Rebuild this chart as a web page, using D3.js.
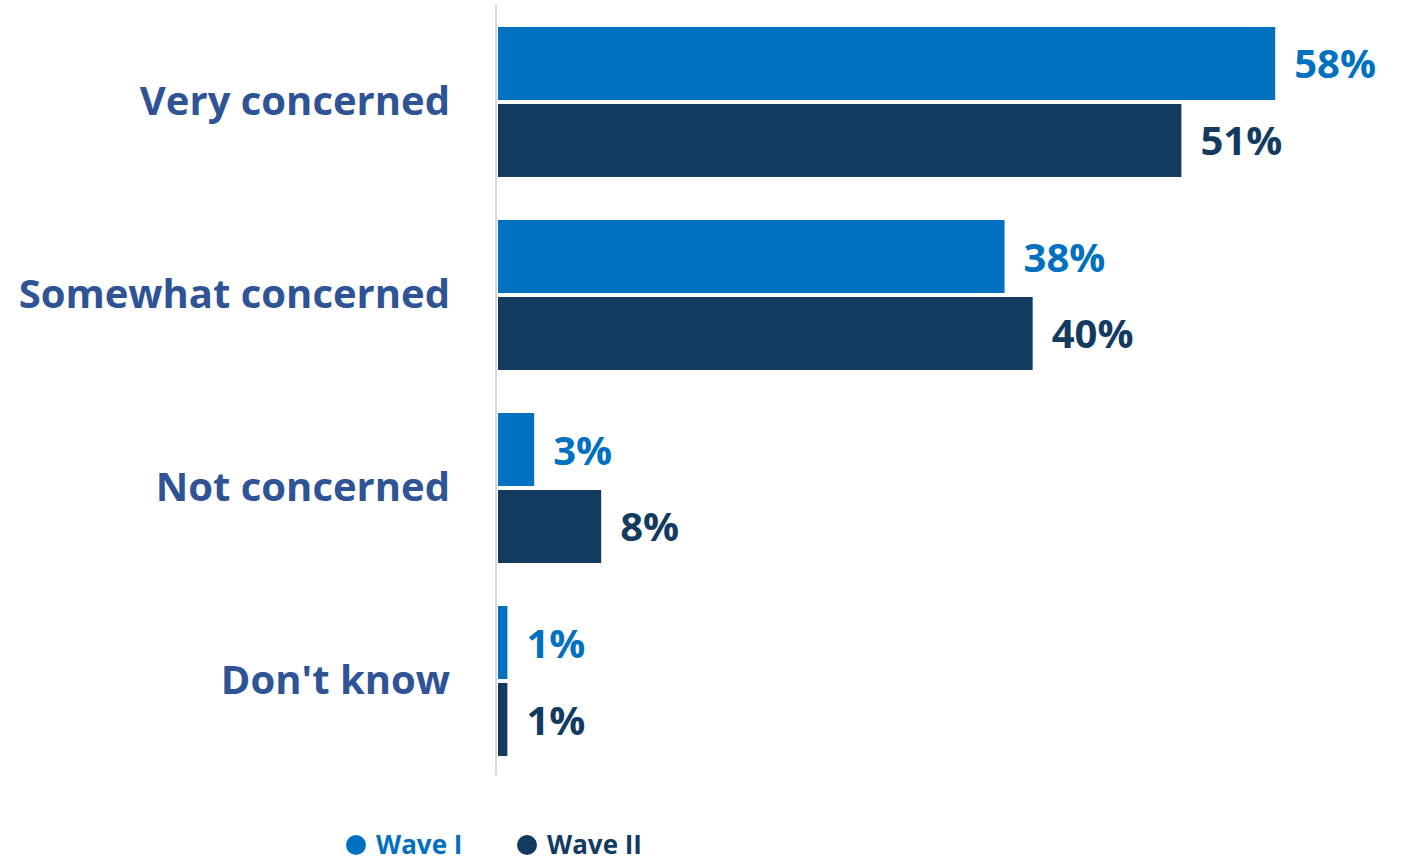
<!DOCTYPE html>
<html>
<head>
<meta charset="utf-8">
<script src="https://cdn.jsdelivr.net/npm/d3@7"></script>
<style>
  body { margin: 0; background: #fff; }
  text { font-family: "Open Sans", Lato, sans-serif; font-weight: bold; }
</style>
</head>
<body>
<div id="chart"></div>
<script>
var width = 1404,
    height = 862;

// data
var categories = ["Very concerned", "Somewhat concerned", "Not concerned", "Don't know"];
var series = ["Wave I", "Wave II"];
var waveOne = [58, 37.8, 2.7, 0.7];
var waveTwo = [51, 39.9, 7.7, 0.7];
var labelsOne = ["58%", "38%", "3%", "1%"];
var labelsTwo = ["51%", "40%", "8%", "1%"];

var colors = ["#0070c0", "#133b5f"];

var svg = d3.select("#chart")
    .append("svg")
    .attr("width", width)
    .attr("height", height);

// scales
var y = d3.scaleBand()
    .domain(categories)
    .range([27, 756])
    .paddingInner(0.223)
    .paddingOuter(0);

var ySub = d3.scaleBand()
    .domain(series)
    .range([0, y.bandwidth()])
    .paddingInner(0.052);

var x = d3.scaleLinear()
    .domain([0, 60])
    .range([498, 1302]);

var rows = [];
categories.forEach(function (c, i) {
    rows.push({ cat: c, s: "Wave I", v: waveOne[i], label: labelsOne[i], color: colors[0] });
    rows.push({ cat: c, s: "Wave II", v: waveTwo[i], label: labelsTwo[i], color: colors[1] });
});

// bars
svg.append("g")
    .selectAll("rect")
    .data(rows)
    .enter()
    .append("rect")
    .attr("x", x(0))
    .attr("y", function (d) { return y(d.cat) + ySub(d.s); })
    .attr("width", function (d) { return x(d.v) - x(0); })
    .attr("height", ySub.bandwidth())
    .style("fill", function (d) { return d.color; });

// value labels
svg.append("g")
    .selectAll("text")
    .data(rows)
    .enter()
    .append("text")
    .attr("x", function (d) { return x(d.v) + 19; })
    .attr("y", function (d) { return y(d.cat) + ySub(d.s) + ySub.bandwidth() / 2 + 15; })
    .style("font-size", "40px")
    .style("fill", function (d) { return d.color; })
    .text(function (d) { return d.label; });

// axis line
svg.append("line")
    .attr("x1", 496).attr("x2", 496)
    .attr("y1", 5).attr("y2", 775)
    .style("stroke", "#d9d9d9")
    .style("stroke-width", 2);

// category labels
svg.append("g")
    .selectAll("text")
    .data(categories)
    .enter()
    .append("text")
    .attr("x", 450)
    .attr("y", function (d) { return y(d) + y.bandwidth() / 2 + 13; })
    .attr("text-anchor", "end")
    .style("font-size", "40px")
    .style("fill", "#2f5496")
    .text(function (d) { return d; });

// legend
var legendX = [356, 527];
var legend = svg.append("g")
    .selectAll("g")
    .data(series)
    .enter()
    .append("g")
    .attr("transform", function (d, i) { return "translate(" + legendX[i] + ",845)"; });

legend.append("circle")
    .attr("r", 10)
    .style("fill", function (d, i) { return colors[i]; });

legend.append("text")
    .attr("x", 20)
    .attr("y", 9)
    .style("font-size", "26px")
    .style("fill", function (d, i) { return colors[i]; })
    .text(function (d) { return d; });
</script>
</body>
</html>
